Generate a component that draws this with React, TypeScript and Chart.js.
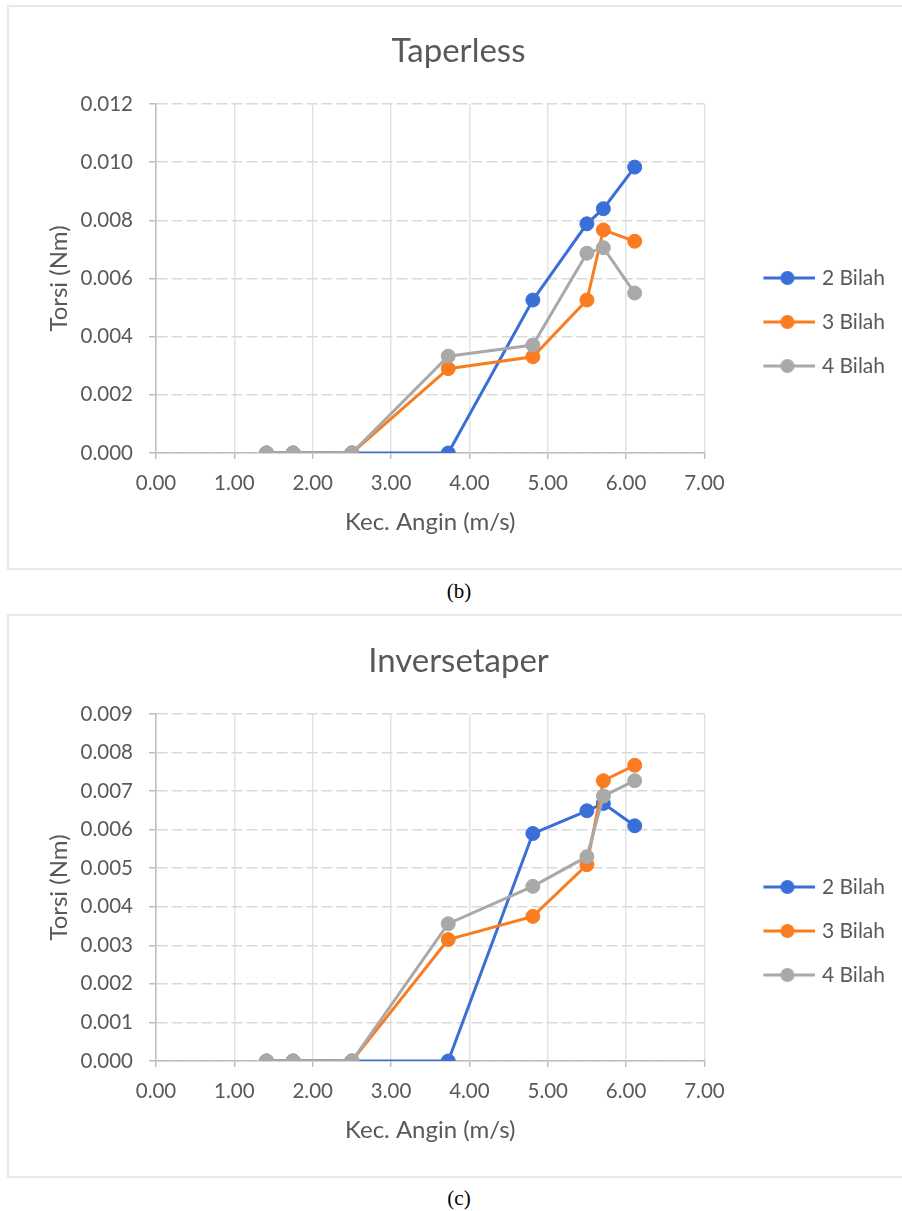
import React, { useEffect, useRef } from "react";
import { Chart, registerables } from "chart.js";

Chart.register(...registerables);

// ---------- data ----------
const windSpeed = [1.41, 1.75, 2.5, 3.73, 4.81, 5.5, 5.71, 6.11];
const seriesNames = ["2 Bilah", "3 Bilah", "4 Bilah"];
const seriesColors = ["#3a6fd8", "#f97d20", "#a9a9a9"];

const taperless2 = [0, 0, 0, 0, 0.00526, 0.00788, 0.0084, 0.00983];
const taperless3 = [0, 0, 0, 0.0029, 0.00331, 0.00526, 0.00767, 0.00728];
const taperless4 = [0, 0, 0, 0.00333, 0.00371, 0.00687, 0.00706, 0.0055];

const inverse2 = [0, 0, 0, 0, 0.0059, 0.00649, 0.00668, 0.0061];
const inverse3 = [0, 0, 0, 0.00315, 0.00375, 0.00509, 0.00727, 0.00767];
const inverse4 = [0, 0, 0, 0.00356, 0.00453, 0.0053, 0.00687, 0.00727];

const xTickValues = [0, 1, 2, 3, 4, 5, 6, 7];
const taperlessYTicks = [0, 0.002, 0.004, 0.006, 0.008, 0.01, 0.012];
const inverseYTicks = [0, 0.001, 0.002, 0.003, 0.004, 0.005, 0.006, 0.007, 0.008, 0.009];

const xTitle = "Kec. Angin (m/s)";
const yTitle = "Torsi (Nm)";

const FONT = "Lato, 'Open Sans', sans-serif";
const TEXT = "#595959";

function legendMarker(color: string) {
  const c = document.createElement("canvas");
  c.width = 92;
  c.height = 16;
  const g = c.getContext("2d")!;
  g.strokeStyle = color;
  g.lineWidth = 3;
  g.beginPath();
  g.moveTo(40, 8);
  g.lineTo(92, 8);
  g.stroke();
  g.fillStyle = color;
  g.beginPath();
  g.arc(64, 8, 7, 0, Math.PI * 2);
  g.fill();
  return c;
}

type Props = {
  title: string;
  series: number[][];
  yTicks: number[];
  plotHeight: number;
};

function LineChart({ title, series, yTicks, plotHeight }: Props) {
  const ref = useRef<HTMLCanvasElement>(null);
  useEffect(() => {
    const markers = seriesColors.map(legendMarker);
    const H = 575;
    const xAxisH = 90;
    const padBottom = H - 104 - plotHeight - xAxisH;
    const padLeft = 22;
    const padRight = 7;
    const titleSize = 33;
    const titleLH = titleSize * 1.2;
    const titleTop = 51 - titleLH / 2;
    const chart = new Chart(ref.current!, {
      type: "line",
      data: {
        datasets: series.map((vals, i) => ({
          label: seriesNames[i],
          data: windSpeed.map((x, j) => ({ x, y: vals[j] })),
          borderColor: seriesColors[i],
          backgroundColor: seriesColors[i],
          pointBackgroundColor: seriesColors[i],
          pointBorderColor: seriesColors[i],
          borderWidth: 3,
          pointRadius: 7,
          pointBorderWidth: 1,
          tension: 0,
          fill: false,
          order: 2 - i,
        })),
      },
      options: {
        responsive: false,
        animation: false,
        devicePixelRatio: 1,
        layout: { padding: { top: 0, left: padLeft, right: padRight, bottom: padBottom } },
        plugins: {
          tooltip: { enabled: false },
          title: {
            display: true,
            text: title,
            color: TEXT,
            font: { family: FONT, size: titleSize, weight: "normal" },
            padding: { top: titleTop, bottom: 104 - titleTop - titleLH },
          },
          legend: {
            position: "right",
            fullSize: false,
            align: "center",
            title: { display: true, text: "", padding: 0, font: { size: 1, lineHeight: 87 } },
            labels: {
              usePointStyle: true,
              pointStyleWidth: 84,
              padding: 23,
              color: TEXT,
              font: { family: FONT, size: 21 },
              sort: (a: any, b: any) => a.datasetIndex - b.datasetIndex,
              generateLabels: (c: any) =>
                (Chart.defaults.plugins.legend.labels.generateLabels as any)(c).map((l: any) => ({
                  ...l,
                  pointStyle: markers[l.datasetIndex],
                })),
            },
          },
        },
        scales: {
          x: {
            type: "linear",
            min: xTickValues[0],
            max: xTickValues[xTickValues.length - 1],
            afterBuildTicks: (s: any) => {
              s.ticks = xTickValues.map((v) => ({ value: v }));
            },
            afterFit: (s: any) => {
              s.height = xAxisH;
            },
            ticks: {
              callback: (v: any) => Number(v).toFixed(2),
              color: TEXT,
              font: { family: FONT, size: 20.5 },
              padding: 12,
              maxRotation: 0,
              autoSkip: false,
            },
            grid: { color: "#e3e3e3", lineWidth: 1.5, tickLength: 6, tickColor: "#bfbfbf", tickWidth: 1.5 },
            border: { color: "#bfbfbf", width: 1.5 },
            title: {
              display: true,
              text: xTitle,
              color: TEXT,
              font: { family: FONT, size: 24 },
              padding: { top: 0, bottom: 6.6 },
            },
          },
          y: {
            type: "linear",
            min: yTicks[0],
            max: yTicks[yTicks.length - 1],
            afterBuildTicks: (s: any) => {
              s.ticks = yTicks.map((v) => ({ value: v }));
            },
            afterFit: (s: any) => {
              s.width = 156 - padLeft;
            },
            ticks: {
              callback: (v: any) => Number(v).toFixed(3),
              color: TEXT,
              font: { family: FONT, size: 20.5 },
              padding: 16,
              autoSkip: false,
            },
            grid: { color: "#d9d9d9", lineWidth: 1.5, tickLength: 7, tickColor: "#bfbfbf", tickWidth: 1.5 },
            border: { color: "#bfbfbf", width: 1.5, dash: [11, 4] },
            title: {
              display: true,
              text: yTitle,
              color: TEXT,
              font: { family: FONT, size: 24 },
              padding: { top: 59 - padLeft - 14.4, bottom: 0 },
            },
          },
        },
      } as any,
    });
    return () => chart.destroy();
  }, []);
  return <canvas ref={ref} width={902} height={575} style={{ display: "block", width: 902, height: 575 }} />;
}

export default function App() {
  const box = (top: number, height: number): React.CSSProperties => ({
    position: "absolute",
    left: 7,
    top,
    width: 1000,
    height,
    border: "2px solid #e8e8e8",
    boxSizing: "border-box",
  });
  const caption = (top: number): React.CSSProperties => ({
    position: "absolute",
    left: 0,
    top,
    width: 918,
    textAlign: "center",
    fontFamily: "'Liberation Serif', 'Times New Roman', serif",
    fontSize: 21,
    lineHeight: "22px",
    color: "#000",
  });
  return (
    <div style={{ position: "absolute", left: 0, top: 0, width: 902, height: 1211, overflow: "hidden", background: "#fff" }}>
      <div style={box(5, 565)} />
      <div style={{ position: "absolute", left: 0, top: 0 }}>
        <LineChart title="Taperless" series={[taperless2, taperless3, taperless4]} yTicks={taperlessYTicks} plotHeight={349} />
      </div>
      <div style={caption(580)}>(b)</div>
      <div style={box(614, 564)} />
      <div style={{ position: "absolute", left: 0, top: 610 }}>
        <LineChart title="Inversetaper" series={[inverse2, inverse3, inverse4]} yTicks={inverseYTicks} plotHeight={347} />
      </div>
      <div style={caption(1187)}>(c)</div>
    </div>
  );
}
